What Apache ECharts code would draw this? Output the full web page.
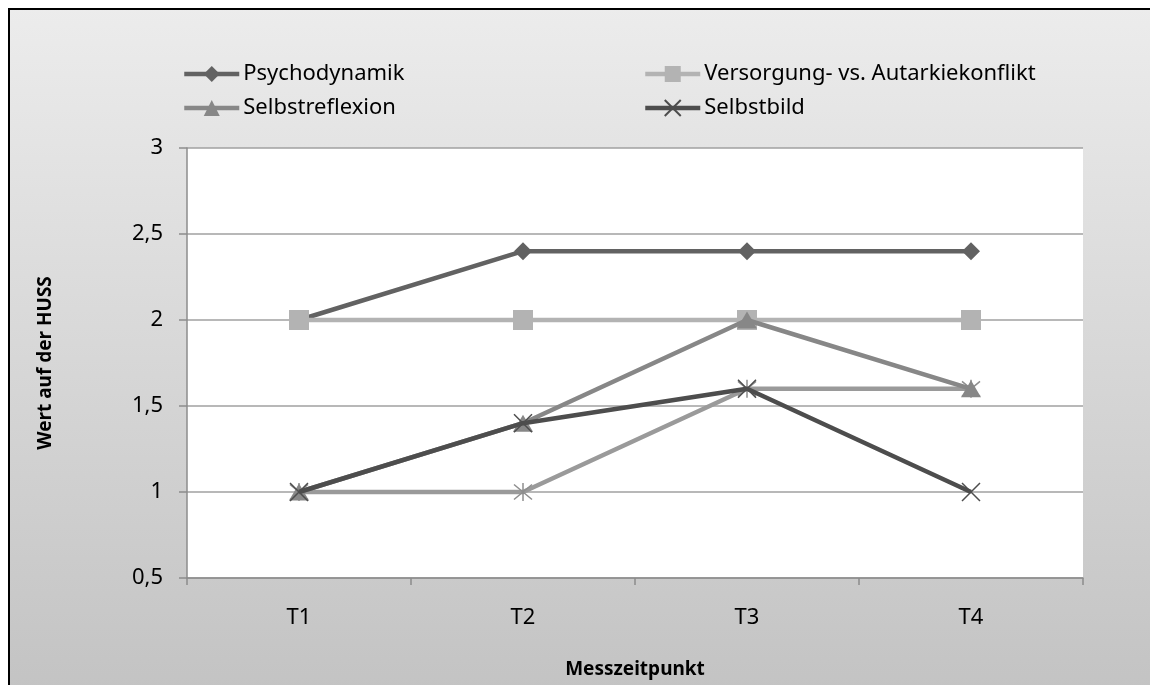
<!DOCTYPE html>
<html>
<head>
<meta charset="utf-8">
<script src="https://cdn.jsdelivr.net/npm/echarts@6/dist/echarts.min.js"></script>
<style>
  html, body { margin: 0; padding: 0; background: #ffffff; }
  #chart { width: 1150px; height: 685px; }
</style>
</head>
<body>
<div id="chart"></div>
<script>
// Messzeitpunkte
const categories = ['T1', 'T2', 'T3', 'T4'];

// Werte auf der HUSS je Skala
const psychodynamik = [2, 2.4, 2.4, 2.4];
const versorgung = [2, 2, 2, 2];
const selbstreflexion = [1, 1.4, 2, 1.6];
const selbstbild = [1, 1.4, 1.6, 1];
const weitereSkala = [1, 1, 1.6, 1.6];

// Y-Achse
const yMin = 0.5;
const yMax = 3;
const yStep = 0.5;

const FONT = '"Noto Sans", "Open Sans", sans-serif';

const crossPath = 'path://M0,0L10,10M10,0L0,10';
const starPath = 'path://M0,0L10,10M10,0L0,10M5,-1L5,11';

const chart = echarts.init(document.getElementById('chart'), null, { renderer: 'canvas' });

function legendAt(name, left, top) {
  return {
    data: [name],
    left: left,
    top: top,
    padding: 0,
    itemWidth: 55,
    itemHeight: 20,
    itemGap: 0,
    selectedMode: false,
    lineStyle: { width: 4.5 },
    textStyle: { fontFamily: FONT, fontSize: 22, color: '#000000', padding: [0, 0, 0, -1] }
  };
}

const option = {
  animation: false,
  graphic: [
    {
      type: 'rect',
      z: -10,
      silent: true,
      shape: { x: 9, y: 9, width: 1160, height: 700 },
      style: {
        fill: new echarts.graphic.LinearGradient(0, 0, 0, 1, [
          { offset: 0, color: '#ececec' },
          { offset: 1, color: '#c2c2c2' }
        ]),
        stroke: '#000000',
        lineWidth: 2
      }
    }
  ],
  legend: [
    legendAt('Psychodynamik', 182, 63),
    legendAt('Versorgung- vs. Autarkiekonflikt', 643, 63),
    legendAt('Selbstreflexion', 182, 97),
    legendAt('Selbstbild', 643, 97)
  ],
  grid: {
    left: 187,
    right: 67,
    top: 148,
    bottom: 107,
    show: true,
    backgroundColor: '#ffffff',
    borderWidth: 0
  },
  xAxis: {
    type: 'category',
    data: categories,
    boundaryGap: true,
    name: 'Messzeitpunkt',
    nameLocation: 'middle',
    nameGap: 82,
    nameTextStyle: { fontFamily: FONT, fontSize: 19, fontWeight: 'bold', color: '#000000' },
    axisLine: { lineStyle: { color: '#8c8c8c', width: 1.5 } },
    axisTick: { show: true, length: 7, lineStyle: { color: '#8c8c8c', width: 1.5 } },
    axisLabel: { fontFamily: FONT, fontSize: 22, color: '#000000', margin: 29 }
  },
  yAxis: {
    type: 'value',
    min: yMin,
    max: yMax,
    interval: yStep,
    name: 'Wert auf der HUSS',
    nameLocation: 'middle',
    nameRotate: 90,
    nameGap: 132,
    nameTextStyle: { fontFamily: FONT, fontSize: 19, fontWeight: 'bold', color: '#000000' },
    axisLine: { show: true, lineStyle: { color: '#8c8c8c', width: 1.5 } },
    axisTick: { show: true, length: 8, lineStyle: { color: '#8c8c8c', width: 1.5 } },
    axisLabel: {
      fontFamily: FONT, fontSize: 22, color: '#000000', margin: 24,
      formatter: v => String(v).replace('.', ',')
    },
    splitLine: { show: true, lineStyle: { color: '#a0a0a0', width: 1.5 } }
  },
  series: [
    {
      name: 'Psychodynamik',
      type: 'line',
      data: psychodynamik,
      symbol: 'diamond',
      symbolSize: 18,
      z: 2,
      lineStyle: { color: '#626262', width: 4.5 },
      itemStyle: { color: '#626262' }
    },
    {
      name: 'Versorgung- vs. Autarkiekonflikt',
      type: 'line',
      data: versorgung,
      symbol: 'rect',
      symbolSize: 20,
      z: 3,
      lineStyle: { color: '#b3b3b3', width: 4.5 },
      itemStyle: { color: '#b3b3b3' }
    },
    {
      type: 'line',
      data: weitereSkala,
      symbol: starPath,
      symbolSize: 18,
      z: 4,
      lineStyle: { color: '#9a9a9a', width: 4.5 },
      itemStyle: { color: 'none', borderColor: '#8e8e8e', borderWidth: 1.5 }
    },
    {
      name: 'Selbstreflexion',
      type: 'line',
      data: selbstreflexion,
      symbol: 'triangle',
      symbolSize: [20, 17],
      z: 5,
      lineStyle: { color: '#878787', width: 4.5 },
      itemStyle: { color: '#878787' }
    },
    {
      name: 'Selbstbild',
      type: 'line',
      data: selbstbild,
      symbol: crossPath,
      symbolSize: 18,
      z: 6,
      lineStyle: { color: '#4d4d4d', width: 4.5 },
      itemStyle: { color: 'none', borderColor: '#4d4d4d', borderWidth: 1.5 }
    }
  ]
};

chart.setOption(option);
</script>
</body>
</html>
